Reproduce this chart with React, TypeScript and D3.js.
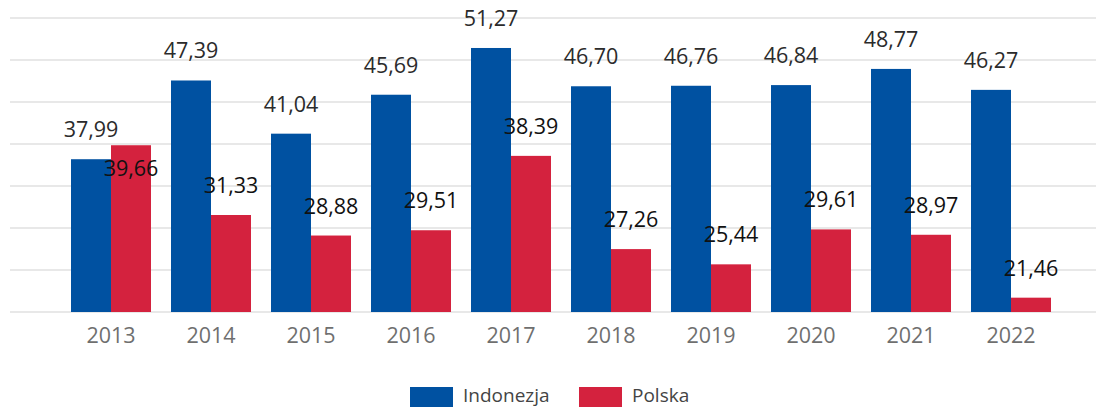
import React from "react";
import * as d3 from "d3";

const categories = ["2013", "2014", "2015", "2016", "2017", "2018", "2019", "2020", "2021", "2022"];
const indonezja = [37.99, 47.39, 41.04, 45.69, 51.27, 46.7, 46.76, 46.84, 48.77, 46.27];
const polska = [39.66, 31.33, 28.88, 29.51, 38.39, 27.26, 25.44, 29.61, 28.97, 21.46];
const seriesNames = ["Indonezja", "Polska"];
const colors = ["#0051A1", "#D4223E"];

const W = 1096;
const H = 407;
const fmt = (v: number) => v.toFixed(2).replace(".", ",");

export default function App() {
  const x = d3.scaleBand<string>().domain(categories).range([61, 1061]).paddingInner(0.2).paddingOuter(0.1);
  const inner = d3.scaleBand<string>().domain(seriesNames).range([0, x.bandwidth()]);
  const y = d3.scaleLinear().domain([19.75, 54.85]).range([312, 18]);
  const grid = d3.range(8).map((i) => 19.75 + (i * (54.85 - 19.75)) / 7);
  const series = [indonezja, polska];

  const labelFont = "'Open Sans', 'Noto Sans', sans-serif";

  return (
    <svg width={W} height={H} style={{ position: "absolute", left: 0, top: 0, background: "#fff" }}>
      {grid.map((g, i) => (
        <line key={i} x1={10} x2={W} y1={y(g)} y2={y(g)} stroke="#e1e1e1" strokeWidth={1.5} />
      ))}
      {categories.map((c, ci) => (
        <g key={c}>
          {series.map((s, si) => {
            const bx = (x(c) as number) + (inner(seriesNames[si]) as number);
            const top = y(s[ci]);
            return (
              <rect key={si} x={bx} y={top} width={inner.bandwidth()} height={y(y.domain()[0]) - top} fill={colors[si]} />
            );
          })}
          {series.map((s, si) => {
            const bx = (x(c) as number) + (inner(seriesNames[si]) as number) + inner.bandwidth() / 2;
            const top = y(s[ci]);
            let base = top - 22;
            if (si === 1) {
              const blueBase = y(indonezja[ci]) - 22;
              if (Math.abs(blueBase - base) < 22) base = top + 31;
            }
            return (
              <text
                key={"l" + si}
                x={bx}
                y={base}
                textAnchor="middle"
                fontFamily={labelFont}
                fontSize={21.5}
                fill={si === 0 ? "#2b2b2b" : "#111"}
              >
                {fmt(s[ci])}
              </text>
            );
          })}
          <text
            x={(x(c) as number) + x.bandwidth() / 2}
            y={343}
            textAnchor="middle"
            fontFamily={labelFont}
            fontSize={21.5}
            fill="#6f6f6f"
          >
            {c}
          </text>
        </g>
      ))}
      {seriesNames.map((n, i) => {
        const lx = [410, 579][i];
        return (
          <g key={n}>
            <rect x={lx} y={387} width={43} height={22} fill={colors[i]} />
            <text x={lx + 53} y={401.5} fontFamily={labelFont} fontSize={19} fill="#444">
              {n}
            </text>
          </g>
        );
      })}
    </svg>
  );
}
